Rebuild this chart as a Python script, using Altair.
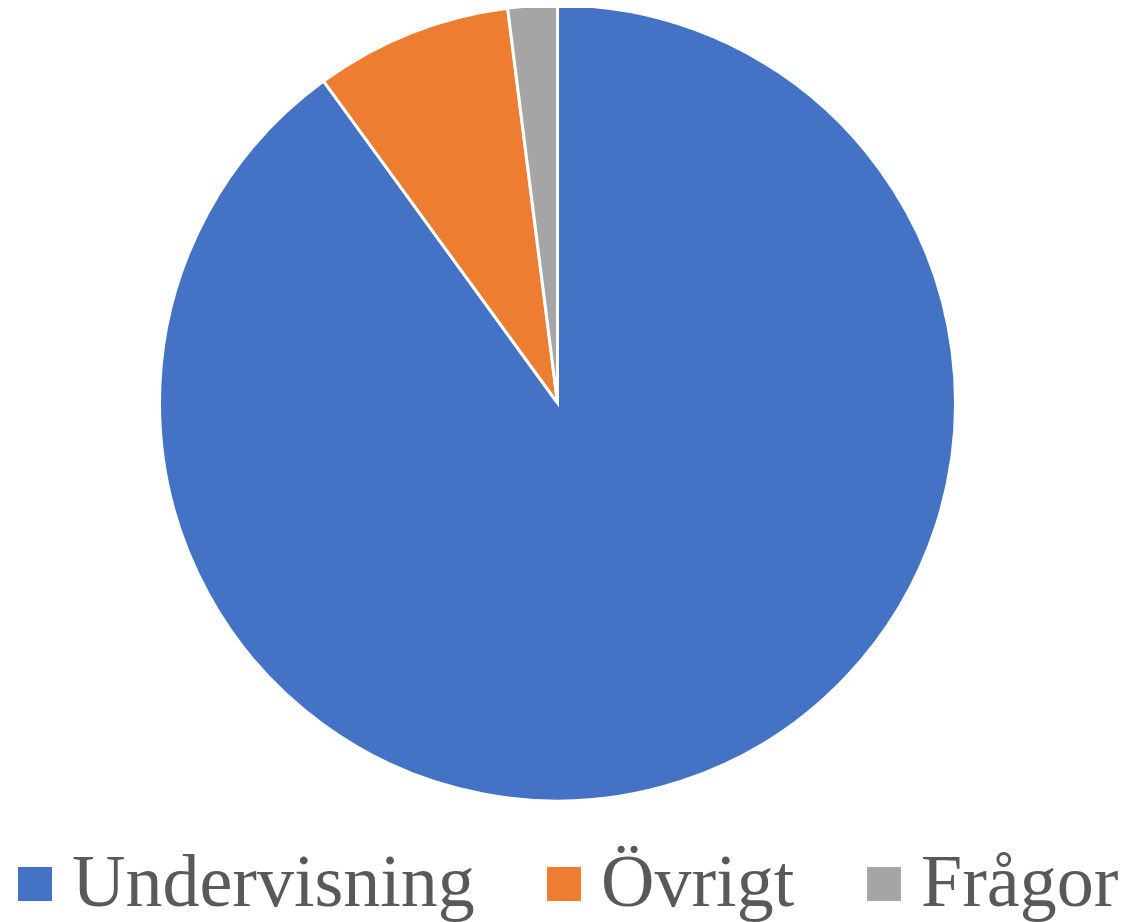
import altair as alt
import pandas as pd

categories = ["Undervisning", "Övrigt", "Frågor"]
values = [90, 8, 2]
colors = ["#4472C4", "#ED7D31", "#A5A5A5"]

df = pd.DataFrame({"kategori": categories, "andel": values, "ordning": list(range(len(categories)))})

chart = alt.Chart(df).mark_arc(radius=398, stroke="white", strokeWidth=3).encode(
    theta=alt.Theta("andel:Q", stack=True),
    order=alt.Order("ordning:Q"),
    x=alt.value(549.5),
    y=alt.value(395),
    color=alt.Color(
        "kategori:N",
        sort=categories,
        scale=alt.Scale(domain=categories, range=colors),
        legend=alt.Legend(
            title=None,
            orient="none",
            legendX=-10,
            legendY=839,
            direction="horizontal",
            columns=3,
            columnPadding=52,
            symbolType="square",
            symbolSize=1156,
            symbolStrokeWidth=0,
            labelFont="Liberation Serif",
            labelFontSize=74,
            labelColor="#595959",
            labelOffset=0,
            labelLimit=0,
        ),
    ),
).properties(
    width=1114, height=914, padding=0, autosize=alt.AutoSizeParams(type="none")
).configure_view(stroke=None)

chart.save("out.html", embed_options={"renderer": "svg", "actions": False})
